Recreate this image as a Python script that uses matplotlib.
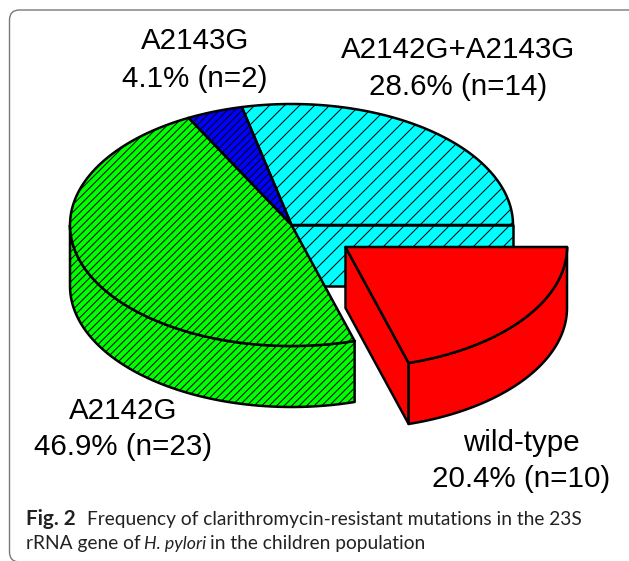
import numpy as np
import matplotlib
matplotlib.use('Agg')
import matplotlib.pyplot as plt
from matplotlib.patches import Polygon, FancyBboxPatch

# pie data, in drawing order starting from the east and going counter-clockwise
names = ['A2142G+A2143G', 'A2143G', 'A2142G', 'wild-type']
percents = [28.6, 4.1, 46.9, 20.4]
counts = [14, 2, 23, 10]
colors = ['#00ffff', '#0000ff', '#00ff00', '#ff0000']
hatches = ['//', '////', '////', None]
label_pos = [(458, 50, 87), (195, 41, 79), (123, 411, 447), (521, 443, 479)]

# pie geometry in image pixels
CX, CY = 291.5, 225
RX, RY = 221.5, 121
DEPTH = 61
EXPLODE = (54, 22)

W, H = 629, 561
DPI = 90

plt.rcParams['font.family'] = ['Liberation Sans', 'DejaVu Sans']
plt.rcParams['hatch.linewidth'] = 0.8


def arc(t0, t1, dx=0, dy=0):
    t = np.radians(np.linspace(t0, t1, 120))
    return np.column_stack([CX + dx + RX * np.cos(t), CY + dy - RY * np.sin(t)])


def add_poly(ax, pts, color, hatch=None, z=1):
    ax.add_patch(Polygon(pts, closed=True, facecolor=color, edgecolor='black',
                         hatch=hatch, linewidth=2.0, joinstyle='round', zorder=z))


fig = plt.figure(figsize=(W / DPI, H / DPI), dpi=DPI)
ax = fig.add_axes([0, 0, 1, 1])
ax.set_xlim(0, W)
ax.set_ylim(H, 0)
ax.axis('off')

# panel frame, runs off the right and bottom of the crop
ax.add_patch(FancyBboxPatch((9.5, 10), 700, 552, boxstyle='round,pad=0,rounding_size=10',
                            facecolor='none', edgecolor='#777777', linewidth=1.1, zorder=0))

edges = np.concatenate([[0], np.cumsum(percents)]) * 3.6
edges[-1] = 360

# cyan: flat cut face below the east radius, then its top
t0, t1 = edges[0], edges[1]
add_poly(ax, [(CX, CY), (CX + RX, CY), (CX + RX, CY + DEPTH), (CX, CY + DEPTH)],
         colors[0], hatches[0], z=1)
add_poly(ax, np.vstack([[(CX, CY)], arc(t0, t1)]), colors[0], hatches[0], z=2)

# blue: top only
t0, t1 = edges[1], edges[2]
add_poly(ax, np.vstack([[(CX, CY)], arc(t0, t1)]), colors[1], hatches[1], z=2)

# green: outer wall then top
t0, t1 = edges[2], edges[3]
add_poly(ax, np.vstack([arc(180, t1), arc(180, t1, dy=DEPTH)[::-1]]), colors[2], hatches[2], z=3)
add_poly(ax, np.vstack([[(CX, CY)], arc(t0, t1)]), colors[2], hatches[2], z=4)

# red: exploded slice with cut face, outer wall and top
t0, t1 = edges[3], edges[4]
ex, ey = EXPLODE
apex = (CX + ex, CY + ey)
front = arc(t0, t0 + 1e-6, ex, ey)[0]
add_poly(ax, [apex, front, (front[0], front[1] + DEPTH), (apex[0], apex[1] + DEPTH)], colors[3], z=5)
add_poly(ax, np.vstack([arc(t0, t1, ex, ey), arc(t0, t1, ex, ey + DEPTH)[::-1]]), colors[3], z=5)
add_poly(ax, np.vstack([[apex], arc(t0, t1, ex, ey)]), colors[3], z=6)

# slice labels
for name, pct, n, (x, y1, y2) in zip(names, percents, counts, label_pos):
    ax.text(x, y1, name, ha='center', va='center', fontsize=23.6, color='black')
    ax.text(x, y2, f'{pct}% (n={n})', ha='center', va='center', fontsize=23.6, color='black')

# caption
cap = dict(family=['Lato', 'DejaVu Sans'], fontsize=15.3, color='#222222', va='baseline')
ax.text(26, 525, 'Fig. 2', fontweight='bold', family=['Lato', 'DejaVu Sans'], fontsize=16.6,
        color='#222222', va='baseline')
ax.text(87, 525, 'Frequency of clarithromycin-resistant mutations in the 23S', **cap)
ax.text(26, 549, 'rRNA gene of', **cap)
ax.text(144, 549, 'H. pylori', style='italic', family=['Lato', 'DejaVu Sans'], fontsize=14.2,
        color='#222222', va='baseline')
ax.text(210, 549, 'in the children population', **cap)

fig.savefig('out.png', dpi=DPI)
